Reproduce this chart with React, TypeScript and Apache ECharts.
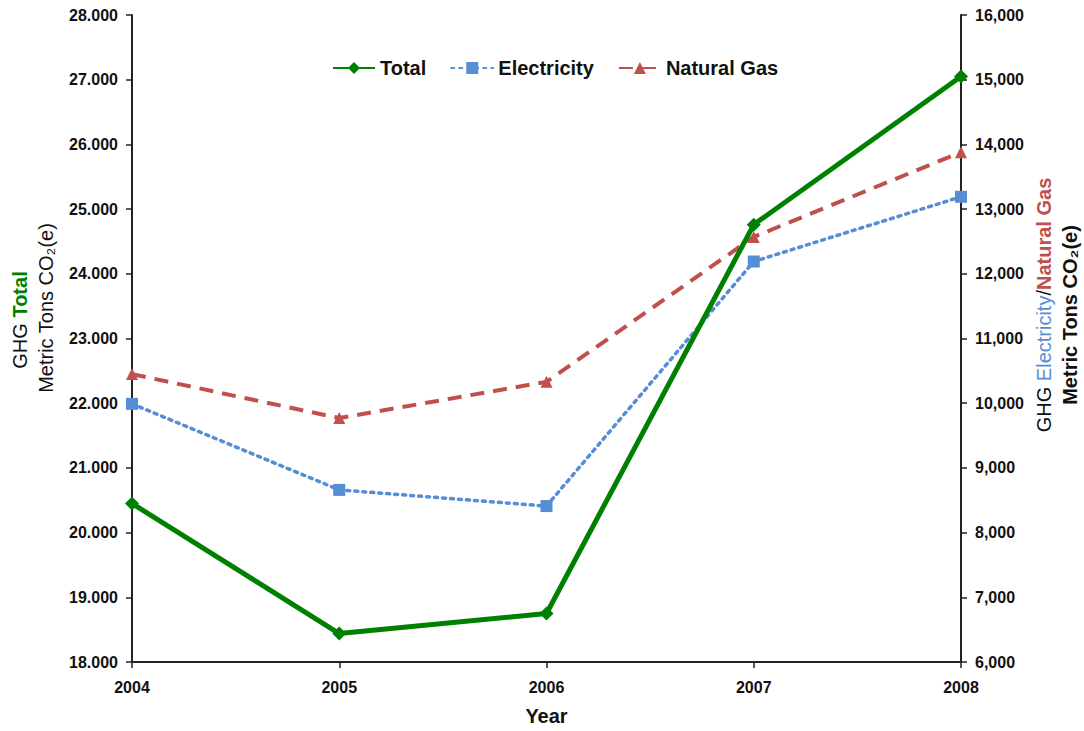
import React, { useEffect, useRef } from "react";
import * as echarts from "echarts";

const years = ["2004", "2005", "2006", "2007", "2008"];
const totalValues = [20450, 18440, 18750, 24760, 27050];
const electricityValues = [9990, 8660, 8410, 12190, 13190];
const naturalGasValues = [10450, 9770, 10330, 12570, 13880];

const GREEN = "#008000";
const BLUE = "#558ED5";
const RED = "#C0504D";
const FONT = "'Liberation Sans', Arial, sans-serif";

const fmtDot = (v: number) => `${Math.floor(v / 1000)}.${String(v % 1000).padStart(3, "0")}`;
const fmtComma = (v: number) => `${Math.floor(v / 1000)},${String(v % 1000).padStart(3, "0")}`;

export default function App() {
  const ref = useRef<HTMLDivElement>(null);

  useEffect(() => {
    if (!ref.current) return;
    const chart = echarts.init(ref.current, null, { renderer: "svg" });
    const axisLine = { show: true, lineStyle: { color: "#222", width: 2 } };
    const axisLabelStyle = { color: "#111", fontFamily: FONT, fontWeight: "bold" as const, fontSize: 16 };

    chart.setOption({
      animation: false,
      backgroundColor: "#fff",
      textStyle: { fontFamily: FONT },
      grid: { left: 132, right: 123, top: 15, bottom: 67, containLabel: false },
      legend: {
        top: 53,
        left: 327,
        itemWidth: 42,
        itemHeight: 15,
        itemGap: 24,
        textStyle: { fontFamily: FONT, fontWeight: "bold", fontSize: 20, color: "#111" },
        data: ["Total", "Electricity", "Natural Gas"],
      },
      xAxis: {
        type: "category",
        data: years,
        boundaryGap: false,
        axisLine,
        axisTick: { show: true, length: 6, lineStyle: { color: "#222", width: 1.5 } },
        axisLabel: { ...axisLabelStyle, fontSize: 16, margin: 17 },
        name: "Year",
        nameLocation: "middle",
        nameGap: 44,
        nameTextStyle: { fontFamily: FONT, fontWeight: "bold", fontSize: 20, color: "#111" },
        splitLine: { show: false },
      },
      yAxis: [
        {
          type: "value",
          min: 18000,
          max: 28000,
          interval: 1000,
          position: "left",
          axisLine,
          axisTick: { show: true, length: 6, lineStyle: { color: "#222", width: 1.5 } },
          axisLabel: { ...axisLabelStyle, margin: 14, formatter: (v: number) => fmtDot(v) },
          splitLine: { show: false },
        },
        {
          type: "value",
          min: 6000,
          max: 16000,
          interval: 1000,
          position: "right",
          axisLine,
          axisTick: { show: true, length: 6, lineStyle: { color: "#222", width: 1.5 } },
          axisLabel: { ...axisLabelStyle, margin: 14, formatter: (v: number) => fmtComma(v) },
          splitLine: { show: false },
        },
      ],
      series: [
        {
          name: "Total",
          type: "line",
          yAxisIndex: 0,
          data: totalValues,
          symbol: "diamond",
          symbolSize: 14,
          itemStyle: { color: GREEN },
          lineStyle: { color: GREEN, width: 5 },
          z: 5,
        },
        {
          name: "Electricity",
          type: "line",
          yAxisIndex: 1,
          data: electricityValues,
          symbol: "rect",
          symbolSize: 12,
          itemStyle: { color: BLUE },
          lineStyle: { color: BLUE, width: 3.5, type: [3, 5], cap: "round" },
          z: 3,
        },
        {
          name: "Natural Gas",
          type: "line",
          yAxisIndex: 1,
          data: naturalGasValues,
          symbol: "triangle",
          symbolSize: 12,
          itemStyle: { color: RED },
          lineStyle: { color: RED, width: 4, type: [14, 9] },
          z: 4,
        },
      ],
      graphic: [
        {
          type: "text",
          x: 20,
          y: 320,
          rotation: Math.PI / 2,
          style: {
            text: "{k|GHG }{g|Total}",
            align: "center",
            verticalAlign: "middle",
            rich: {
              k: { fontFamily: FONT, fontSize: 20, fill: "#111" },
              g: { fontFamily: FONT, fontSize: 20, fill: GREEN, fontWeight: "bold" },
            },
          },
        },
        {
          type: "text",
          x: 46,
          y: 308,
          rotation: Math.PI / 2,
          style: {
            text: "Metric Tons CO₂(e)",
            align: "center",
            verticalAlign: "middle",
            fontFamily: FONT,
            fontSize: 20,
            fill: "#111",
          },
        },
        {
          type: "text",
          x: 1044,
          y: 305,
          rotation: Math.PI / 2,
          style: {
            text: "{k|GHG }{b|Electricity}{k|/}{r|Natural Gas}",
            align: "center",
            verticalAlign: "middle",
            rich: {
              k: { fontFamily: FONT, fontSize: 20, fill: "#111" },
              b: { fontFamily: FONT, fontSize: 20, fill: BLUE },
              r: { fontFamily: FONT, fontSize: 20, fill: RED, fontWeight: "bold" },
            },
          },
        },
        {
          type: "text",
          x: 1070,
          y: 315,
          rotation: Math.PI / 2,
          style: {
            text: "Metric Tons CO₂(e)",
            align: "center",
            verticalAlign: "middle",
            fontFamily: FONT,
            fontSize: 20,
            fontWeight: "bold",
            fill: "#111",
          },
        },
      ],
    });

    return () => chart.dispose();
  }, []);

  return (
    <div
      ref={ref}
      style={{ position: "fixed", left: 0, top: 0, width: 1084, height: 731, background: "#fff" }}
    />
  );
}
